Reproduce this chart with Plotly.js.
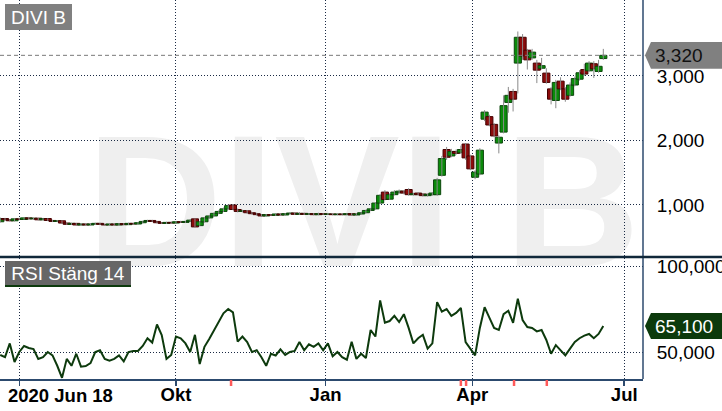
<!DOCTYPE html>
<html><head><meta charset="utf-8">
<script src="https://cdn.plot.ly/plotly-3.0.1.min.js"></script>
<style>html,body{margin:0;padding:0;background:#fff}#c{width:722px;height:411px}</style>
</head><body><div id="c"></div>
<script>
// Candles: one per two trading days, 2020 Jun 18 -> 2021 Jun 18 (SEK)
const openP = [
.740,.790,.770,.755,.785,.775,.800,.785,.795,.770,
.790,.760,.745,.755,.720,.700,.715,.690,.705,.690,
.705,.715,.700,.690,.705,.690,.710,.695,.715,.705,
.725,.745,.760,.745,.725,.715,.730,.720,.740,.730,
.745,.785,.680,.740,.800,.830,.870,.900,.940,1.000,
.930,.900,.910,.880,.865,.850,.830,.850,.840,.860,
.845,.865,.875,.855,.870,.855,.865,.850,.865,.855,
.860,.850,.860,.850,.865,.845,.860,.880,.915,.940,
1.030,1.200,1.090,1.160,1.190,1.215,1.240,1.160,1.185,1.170,
1.145,1.160,1.160,1.460,1.860,1.760,1.830,1.810,1.945,1.760,
1.430,1.480,2.330,2.370,2.250,1.960,2.130,2.590,2.760,3.200,
3.600,3.400,3.280,3.200,3.120,3.045,2.800,2.620,2.920,2.800,
2.700,2.860,2.950,3.100,3.080,3.190,3.070,3.270];
const closeP = [
.790,.770,.755,.785,.775,.800,.785,.795,.770,.790,
.760,.745,.755,.720,.700,.715,.690,.705,.690,.705,
.715,.700,.690,.705,.690,.710,.695,.715,.705,.725,
.745,.760,.745,.725,.715,.730,.720,.740,.730,.745,
.765,.660,.740,.800,.830,.870,.900,.940,.990,.930,
.900,.910,.880,.865,.850,.830,.850,.840,.860,.845,
.865,.875,.855,.870,.855,.865,.850,.865,.855,.860,
.850,.860,.850,.865,.845,.860,.880,.915,.940,1.030,
1.150,1.085,1.160,1.200,1.215,1.185,1.160,1.175,1.160,1.145,
1.165,1.185,1.390,1.720,1.740,1.830,1.800,1.860,1.730,1.560,
1.510,1.850,2.440,2.240,2.070,2.050,2.540,2.700,2.640,3.600,
3.310,3.250,3.370,3.090,3.160,2.900,2.640,2.900,2.800,2.640,
2.860,2.960,3.050,3.030,3.200,3.110,3.150,3.320];
const highP = [
.805,.800,.780,.795,.800,.810,.815,.805,.800,.800,
.795,.770,.765,.760,.730,.725,.720,.715,.715,.720,
.725,.725,.710,.715,.715,.720,.720,.725,.725,.735,
.755,.770,.770,.750,.735,.740,.745,.750,.755,.755,
.780,.790,.750,.815,.845,.885,.915,.960,1.010,1.015,
.945,.925,.920,.890,.880,.860,.860,.860,.870,.870,
.875,.885,.885,.890,.880,.875,.875,.880,.875,.870,
.870,.870,.870,.875,.875,.870,.890,.925,.955,1.040,
1.170,1.230,1.180,1.230,1.240,1.230,1.260,1.190,1.200,1.180,
1.180,1.200,1.420,1.760,1.900,1.870,1.860,1.920,1.960,1.780,
1.540,1.880,2.470,2.400,2.270,2.080,2.700,2.830,2.800,3.690,
3.650,3.420,3.420,3.250,3.280,3.120,2.830,2.940,2.980,2.830,
2.900,2.990,3.090,3.190,3.230,3.230,3.250,3.420];
const lowP = [
.730,.760,.745,.745,.765,.770,.775,.770,.760,.765,
.750,.735,.735,.710,.690,.690,.680,.680,.680,.685,
.695,.690,.680,.680,.680,.680,.685,.690,.695,.700,
.715,.735,.735,.715,.705,.705,.710,.710,.720,.720,
.735,.650,.670,.730,.790,.820,.855,.890,.930,.920,
.885,.885,.865,.850,.835,.815,.820,.830,.830,.835,
.835,.855,.845,.845,.845,.845,.840,.840,.845,.845,
.840,.840,.835,.840,.835,.830,.850,.870,.905,.930,
1.020,1.070,1.080,1.150,1.175,1.165,1.145,1.145,1.145,1.130,
1.130,1.145,1.140,1.440,1.700,1.740,1.780,1.790,1.700,1.540,
1.400,1.460,2.300,2.220,2.050,1.800,2.110,2.430,2.450,2.730,
3.250,3.100,3.250,2.890,3.100,2.880,2.560,2.500,2.780,2.600,
2.680,2.840,2.930,3.000,3.060,2.970,3.050,3.250];
// RSI (close, 14), same periods
const rsi = [
48.3,47,55,44.2,50,53.5,52.3,51.7,45.9,47,
50,48,42,35,46,42,49,41.5,41.8,43.5,
50,51,46,45,46,48,44.5,50,50.6,50.6,
53.5,58,55.5,66,59.9,46,48.3,59,58,55,
50,60,43,53,57.6,62.5,67.5,72.5,75,73,
56,59,55.8,50,51,47,42,49,48,51.5,
48.3,50,50.6,55.8,51,54.5,53,55,51,55,
47.5,50,47,45.5,56,46,49,46.5,62.8,59,
80,67,68,71,67.4,72,64,55,58,60,
52,55,79,73.5,75,71,72.7,75.6,55.8,52,
48,64,76,70,64,62.8,72,74,67,81,
68.6,64.5,64,62,62.8,57,49,54,51,48,
52,55.8,58,59.5,60.5,58,60.5,65.1];
const tickPos = [4.0, 37.0, 68.5, 99.4, 131.4];
const tickLabels = ['2020 Jun 18','Okt','Jan','Apr','Jul'];
const eventPos = [48.6, 97.0, 98.1, 108.2, 115.1];
const priceTicks = [1, 2, 3];
const rsiTicks = [50, 100];
const symbol = 'DIVI B';
const rsiTitle = 'RSI Stäng 14';

const FONT = 'Liberation Sans, Arial, sans-serif';
const idx = closeP.map((_, i) => i);
const wx = [], wy = [];
idx.forEach(i => { wx.push(i, i, null); wy.push(lowP[i], highP[i], null); });
const up = idx.map(i => closeP[i] >= openP[i]);
const base = idx.map(i => Math.min(openP[i], closeP[i]));
const body = idx.map(i => Math.max(Math.abs(closeP[i] - openP[i]), 0.006));
const lastC = closeP[closeP.length - 1];
const lastR = rsi[rsi.length - 1];
const fmt = v => v.toFixed(3).replace('.', ',');

const gridStyle = {showgrid: true, gridcolor: '#1a2a44', griddash: '1px,2px', gridwidth: 1, zeroline: false};

const traces = [
  {type: 'scatter', mode: 'lines', x: wx, y: wy, xaxis: 'x2', yaxis: 'y',
   line: {color: '#8a8a8a', width: 1}, hoverinfo: 'skip'},
  {type: 'bar', x: idx, y: body, base: base, width: 1.5, xaxis: 'x2', yaxis: 'y',
   marker: {color: up.map(u => u ? '#0a8c0a' : '#8b0b0b'),
            line: {color: up.map(u => u ? '#0b460b' : '#450000'), width: 1}},
   hoverinfo: 'skip'},
  {type: 'scatter', mode: 'lines', x: idx, y: rsi, xaxis: 'x', yaxis: 'y2',
   line: {color: '#0d3a0d', width: 2}, hoverinfo: 'skip'}
];

const pH = 13.3 / 64.5, rH = 13 / 1.72;
const shapes = [
  {type: 'rect', xref: 'paper', yref: 'paper', x0: 0.15, x1: 0.98, y0: 0.335, y1: 0.70,
   layer: 'below', line: {width: 0}, fillcolor: 'rgba(0,0,0,0)',
   label: {text: symbol, textposition: 'middle center',
           font: {family: FONT, size: 188, color: '#efefef', weight: 'bold'}}},
  {type: 'line', xref: 'paper', yref: 'y', x0: 0, x1: 1, y0: lastC, y1: lastC,
   line: {color: '#7a7a7a', width: 1, dash: '4px,3px'}},
  {type: 'line', xref: 'paper', yref: 'paper', x0: 1, x1: 1, y0: 0, y1: 1,
   line: {color: '#2c4a6e', width: 1.5}},
  {type: 'line', xref: 'paper', yref: 'paper', x0: 0, x1: 1.13, y0: 122/379, y1: 122/379,
   line: {color: '#10283a', width: 2.5}},
  {type: 'path', xref: 'paper', yref: 'y', fillcolor: '#808080', line: {width: 0},
   path: `M 1.0031,${lastC} L 1.0124,${lastC + pH} L 1.13,${lastC + pH} L 1.13,${lastC - pH} L 1.0124,${lastC - pH} Z`},
  {type: 'path', xref: 'paper', yref: 'y2', fillcolor: '#0c3a0c', line: {width: 0},
   path: `M 1.0031,${lastR} L 1.0124,${lastR + rH} L 1.13,${lastR + rH} L 1.13,${lastR - rH} L 1.0124,${lastR - rH} Z`},
  {type: 'line', xref: 'paper', yref: 'paper', x0: 5/643, x1: 131/643, y0: (379-286)/379, y1: (379-286)/379,
   line: {color: '#0c3a0c', width: 2}}
].concat(eventPos.map(p => ({type: 'line', xref: 'x', yref: 'paper', x0: p, x1: p, y0: -1/379, y1: -7/379,
   line: {color: '#ff5a5a', width: 2.5}})));

const annotations = [
  {text: symbol, xref: 'paper', yref: 'paper', x: 5/643, y: (379-4)/379, xanchor: 'left', yanchor: 'top',
   showarrow: false, bgcolor: '#808080', width: 67, height: 26, borderpad: 0, borderwidth: 0,
   font: {family: FONT, size: 19, color: '#ffffff'}},
  {text: rsiTitle, xref: 'paper', yref: 'paper', x: 5/643, y: (379-261)/379, xanchor: 'left', yanchor: 'top',
   showarrow: false, bgcolor: '#666666', width: 126, height: 24, borderpad: 0, borderwidth: 0,
   font: {family: FONT, size: 19, color: '#ffffff'}},
  {text: fmt(lastC), xref: 'paper', yref: 'y', x: 653/643, y: lastC, xanchor: 'left', yanchor: 'middle',
   showarrow: false, font: {family: FONT, size: 19, color: '#111111'}},
  {text: fmt(lastR), xref: 'paper', yref: 'y2', x: 653/643, y: lastR, xanchor: 'left', yanchor: 'middle',
   showarrow: false, font: {family: FONT, size: 19, color: '#ffffff'}},
  {text: tickLabels[0], xref: 'paper', yref: 'paper', x: 6/643, y: (379-395.5)/379, xanchor: 'left', yanchor: 'middle',
   showarrow: false, font: {family: FONT, size: 18.5, color: '#000000', weight: 'bold'}}
];

const layout = {
  width: 722, height: 411, margin: {l: 0, r: 79, t: 0, b: 32},
  paper_bgcolor: '#ffffff', plot_bgcolor: '#ffffff', showlegend: false,
  separators: ',.', hovermode: false,
  xaxis: Object.assign({anchor: 'y2', domain: [0, 1], range: [-0.06, 135.36],
    tickmode: 'array', tickvals: tickPos, ticktext: [''].concat(tickLabels.slice(1)),
    ticks: 'outside', ticklen: 5, tickwidth: 1.5, tickcolor: '#2c4a6e', ticklabelstandoff: -7,
    showline: true, linecolor: '#2c4a6e', linewidth: 1.5,
    tickfont: {family: FONT, size: 18.5, color: '#000000', weight: 'bold'}, fixedrange: true}, gridStyle),
  xaxis2: Object.assign({anchor: 'y', domain: [0, 1], matches: 'x', range: [-0.06, 135.36],
    tickmode: 'array', tickvals: tickPos, showticklabels: false, ticks: '', showline: false}, gridStyle),
  yaxis: Object.assign({domain: [123/379, 1], range: [0.209, 4.178], side: 'right', anchor: 'x2',
    tickmode: 'array', tickvals: priceTicks, tickformat: '.3f',
    ticks: 'outside', ticklen: 9, tickcolor: 'rgba(0,0,0,0)',
    tickfont: {family: FONT, size: 19, color: '#000000'}, showline: false}, gridStyle),
  yaxis2: Object.assign({domain: [0, 121/379], range: [34.3, 104.65], side: 'right', anchor: 'x',
    tickmode: 'array', tickvals: rsiTicks, tickformat: '.3f',
    ticks: 'outside', ticklen: 9, tickcolor: 'rgba(0,0,0,0)',
    tickfont: {family: FONT, size: 19, color: '#000000'}, showline: false}, gridStyle),
  shapes: shapes, annotations: annotations
};

Plotly.newPlot('c', traces, layout, {staticPlot: true, displayModeBar: false});
</script></body></html>
